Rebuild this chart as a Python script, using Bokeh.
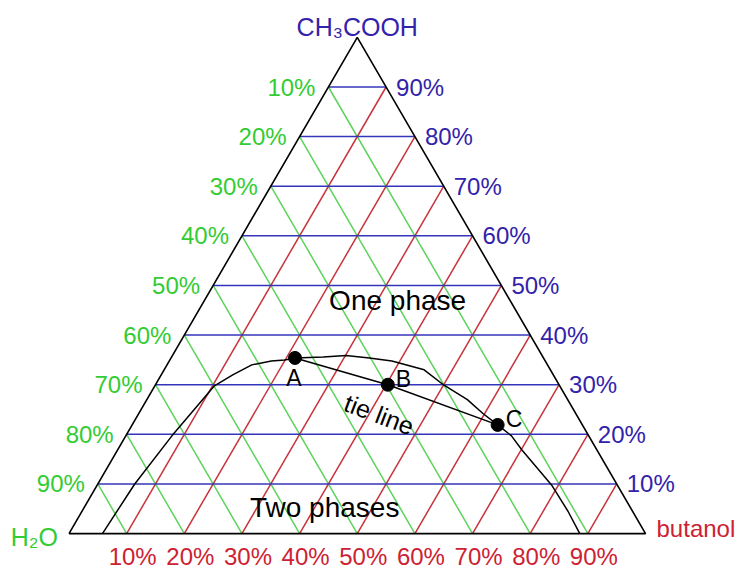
import numpy as np
from bokeh.plotting import figure
from bokeh.models import Range1d
from bokeh.embed import file_html
from bokeh.resources import INLINE
from bokeh.core.properties import value

# ---------------- data ----------------
levels = [0.1, 0.2, 0.3, 0.4, 0.5, 0.6, 0.7, 0.8, 0.9]
pct_labels = ["10%", "20%", "30%", "40%", "50%", "60%", "70%", "80%", "90%"]

# binodal curve (acetic acid fraction, butanol fraction)
curve_acetic = [0.000, 0.100, 0.197, 0.297, 0.320, 0.340, 0.348, 0.350, 0.354,
                0.356, 0.359, 0.354, 0.348, 0.330, 0.299, 0.270, 0.242, 0.219,
                0.197, 0.168, 0.098, 0.045, 0.000]
curve_butanol = [0.058, 0.064, 0.080, 0.103, 0.124, 0.147, 0.177, 0.199, 0.215,
                 0.263, 0.301, 0.344, 0.386, 0.451, 0.501, 0.556, 0.597, 0.634,
                 0.669, 0.702, 0.788, 0.843, 0.886]

# tie line points
tie_names = ["A", "B", "C"]
tie_acetic = [0.354, 0.300, 0.219]
tie_butanol = [0.215, 0.403, 0.634]

vertex_names = ["H\u2082O", "butanol", "CH\u2083COOH"]
region_names = ["One phase", "Two phases"]

# ---------------- helpers ----------------
S = np.sqrt(3) / 2


def tern(a, b):
    a = np.asarray(a, dtype=float)
    b = np.asarray(b, dtype=float)
    return b + a / 2, a * S


FONT = value("Liberation Sans")
GREEN_L = "#5cd35c"
GREEN_T = "#33cc33"
RED_L = "#c8323c"
RED_T = "#cc2233"
BLUE_L = "#3535bb"
BLUE_T = "#3322aa"

PX = 589.0
p = figure(width=738, height=572, output_backend="svg", toolbar_location=None,
           x_range=Range1d(-70 / PX, 684 / PX), y_range=Range1d(-40 / PX, 548 / PX),
           min_border=0)
p.axis.visible = False
p.grid.visible = False
p.outline_line_color = None
p.background_fill_color = "white"
p.border_fill_color = "white"

lv = np.array(levels)

# green lines: constant water fraction h, from left edge to bottom
gx, gy = [], []
for h in lv:
    x0, y0 = tern(1 - h, 0)
    x1, y1 = tern(0, 1 - h)
    gx.append([float(x0), float(x1)])
    gy.append([float(y0), float(y1)])
p.multi_line(gx, gy, line_color=GREEN_L, line_width=1.5)

# red lines: constant butanol fraction b, from bottom to right edge
rx, ry = [], []
for b in lv:
    x0, y0 = tern(0, b)
    x1, y1 = tern(1 - b, b)
    rx.append([float(x0), float(x1)])
    ry.append([float(y0), float(y1)])
p.multi_line(rx, ry, line_color=RED_L, line_width=1.5)

# blue lines: constant acetic acid fraction a
bx, by = [], []
for a in lv:
    x0, y0 = tern(a, 0)
    x1, y1 = tern(a, 1 - a)
    bx.append([float(x0), float(x1)])
    by.append([float(y0), float(y1)])
p.multi_line(bx, by, line_color=BLUE_L, line_width=1.5)

# triangle edges
tx, ty = tern([0, 0, 1, 0], [0, 1, 0, 0])
p.line(tx, ty, line_color="black", line_width=1.6)

# binodal curve
cx, cy = tern(curve_acetic, curve_butanol)
p.line(cx, cy, line_color="black", line_width=1.5)

# tie line
tlx, tly = tern(tie_acetic, tie_butanol)
p.line(tlx, tly, line_color="black", line_width=1.5)
p.scatter(tlx, tly, size=13, color="black")

# labels for tie points
p.text(x=[tlx[0]], y=[tly[0]], text=[tie_names[0]], x_offset=-1, y_offset=20,
       text_align="center", text_baseline="middle", text_font=FONT,
       text_font_size="23px", text_color="black")
p.text(x=list(tlx[1:]), y=list(tly[1:]), text=tie_names[1:], x_offset=8, y_offset=-6,
       text_align="left", text_baseline="middle", text_font=FONT,
       text_font_size="23px", text_color="black")

# tie line label
tx0, ty0 = tern(0.240, 0.418)
p.text(x=[float(tx0)], y=[float(ty0)], text=["tie line"], angle=-0.36,
       text_align="center", text_baseline="middle", text_font=FONT,
       text_font_size="25px", text_color="black")

# region labels
ox, oy = tern(0.470, 0.335)
wx, wy = tern(0.053, 0.417)
p.text(x=[float(ox), float(wx)], y=[float(oy), float(wy)], text=region_names,
       text_align="center", text_baseline="middle", text_font=FONT,
       text_font_size="28px", text_color="black")

# left labels (water %, green)
lx, ly = tern(1 - lv, np.zeros_like(lv))
p.text(x=list(lx), y=list(ly), text=pct_labels, x_offset=-13,
       text_align="right", text_baseline="middle", text_font=FONT,
       text_font_size="24px", text_color=GREEN_T)

# right labels (acetic acid %, blue)
rlx, rly = tern(lv, 1 - lv)
p.text(x=list(rlx), y=list(rly), text=pct_labels, x_offset=10,
       text_align="left", text_baseline="middle", text_font=FONT,
       text_font_size="24px", text_color=BLUE_T)

# bottom labels (butanol %, red)
blx, bly = tern(np.zeros_like(lv), lv)
p.text(x=list(blx), y=list(bly), text=pct_labels, x_offset=6, y_offset=23,
       text_align="center", text_baseline="middle", text_font=FONT,
       text_font_size="24px", text_color=RED_T)

# vertex labels
p.text(x=[0.0], y=[0.0], text=[vertex_names[0]], x_offset=-11, y_offset=3,
       text_align="right", text_baseline="middle", text_font=FONT,
       text_font_size="25px", text_color=GREEN_T)
p.text(x=[1.0], y=[0.0], text=[vertex_names[1]], x_offset=11, y_offset=-5,
       text_align="left", text_baseline="middle", text_font=FONT,
       text_font_size="24px", text_color=RED_T)
p.text(x=[0.5], y=[float(S)], text=[vertex_names[2]], x_offset=0, y_offset=-10,
       text_align="center", text_baseline="alphabetic", text_font=FONT,
       text_font_size="25px", text_color=BLUE_T)

open("out.html", "w").write(file_html(p, INLINE))
